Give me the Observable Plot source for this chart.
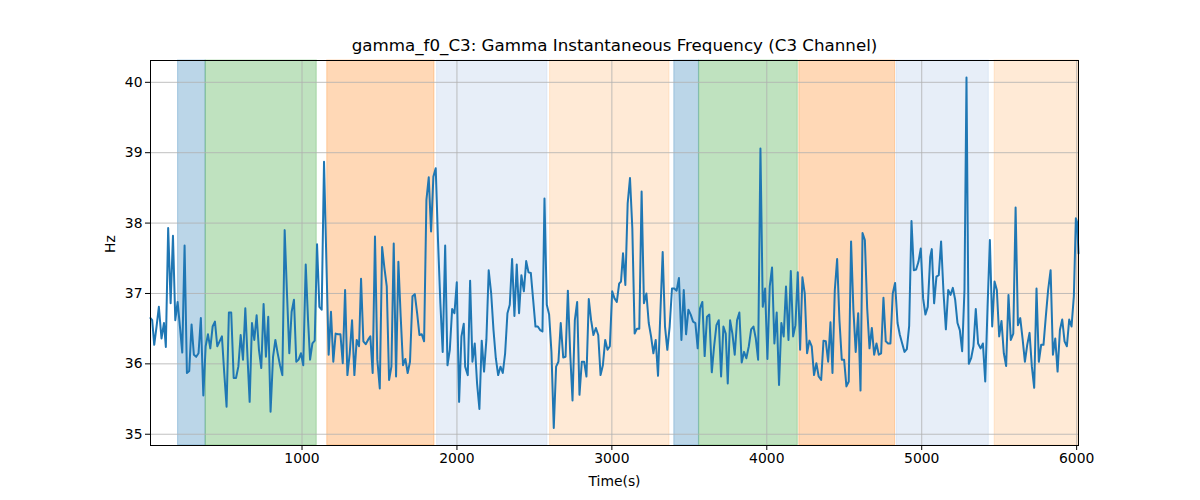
<!DOCTYPE html>
<html><head><meta charset="utf-8">
<script src="https://cdn.jsdelivr.net/npm/d3@7"></script>
<script src="https://cdn.jsdelivr.net/npm/@observablehq/plot@0.6"></script>
<style>
html,body{margin:0;padding:0;background:#fff;}
#chart svg{display:block;}
</style>
</head><body><div id="chart"></div>
<script>
const times = [22,33,46,61,76,93,109,121,136,152,167,182,197,212,227,242,257,272,287,302,317,332,347,363,378,393,408,423,438,453,468,483,498,513,528,543,559,574,589,604,619,634,649,662,677,692,707,722,737,752,767,782,797,813,828,843,858,873,888,903,918,933,948,963,978,993,1008,1024,1039,1052,
1067,1082,1097,1112,1127,1142,1157,1172,1187,1202,1217,1232,1248,1263,1278,1293,1308,1323,1338,1353,1368,1381,1396,1411,1426,1441,1456,1471,1486,1502,1517,1532,1547,1562,1577,1592,1607,1622,1637,1652,1667,1682,1697,1713,1728,1743,1758,1773,1788,1803,1818,1833,1848,1863,1878,1893,1908,1924,1939,1954,1969,1984,1999,2014,2029,2044,2053,
2070,2085,2100,2115,2130,2145,2160,2175,2190,2205,2221,2236,2251,2266,2281,2296,2311,2326,2341,2356,2371,2386,2401,2416,2432,2447,2462,2477,2492,2507,2522,2537,2552,2565,2580,2595,2610,2625,2640,2655,2670,2686,2701,2716,2731,2746,2761,2776,2791,2806,2821,2836,2851,2866,2881,2897,2912,2927,2942,2957,2972,2987,3002,3017,3032,3047,
3059,3072,3087,3102,3117,3132,3147,3162,3177,3192,3207,3223,3238,3253,3268,3283,3298,3313,3328,3343,3358,3373,3388,3403,3418,3433,3449,3464,3479,3494,3509,3524,3539,3554,3569,3584,3599,3614,3629,3645,3660,3675,3690,3705,3720,3735,3748,3763,3778,3793,3808,3823,3838,3853,3868,3884,3899,3914,3929,3944,3959,3974,3989,4004,4019,4034,4049,
4064,4079,4094,4109,4124,4140,4155,4170,4185,4200,4215,4230,4245,4260,4275,4290,4305,4320,4335,4351,4366,4381,4396,4411,4424,4439,4454,4469,4484,4499,4514,4529,4544,4559,4574,4590,4605,4618,4633,4648,4663,4678,4693,4708,4723,4738,4753,4768,4783,4798,4813,4828,4844,4859,4874,4889,4904,4919,4934,4949,4964,4979,4994,5009,5024,5039,5055,
5065,5080,5095,5110,5125,5141,5156,5171,5186,5201,5216,5231,5246,5261,5276,5289,5304,5319,5334,5349,5364,5380,5395,5410,5425,5440,5455,5470,5485,5500,5515,5530,5545,5560,5575,5591,5606,5621,5636,5651,5666,5681,5696,5711,5726,5741,5756,5771,5786,5801,5816,5832,5847,5862,5877,5892,5907,5922,5937,5952,5967,5982,5995,6003,6012];

const hz = [36.65,36.62,36.27,36.53,36.81,36.36,36.58,36.24,37.93,36.86,37.82,36.62,36.88,36.53,36.16,37.68,35.87,35.90,36.56,36.13,36.10,36.15,36.65,35.55,36.25,36.42,36.22,36.53,36.60,36.25,36.32,36.39,35.87,35.39,36.73,36.73,35.80,35.80,35.96,36.41,36.06,36.79,36.06,35.46,36.58,36.34,36.69,36.20,35.94,36.85,36.10,36.67,35.32,36.10,36.34,36.15,35.98,35.84,37.90,37.00,36.15,36.74,36.91,36.03,36.06,36.15,35.98,37.41,36.62,36.06,
36.29,36.33,37.70,36.81,36.77,38.87,37.48,36.13,36.74,36.03,36.43,36.42,36.42,36.01,37.05,35.84,36.15,36.62,35.84,36.34,36.25,37.21,36.32,36.28,36.34,36.39,35.87,37.81,36.06,35.65,37.66,37.36,37.10,35.77,35.96,37.71,35.82,37.45,36.67,35.98,36.07,35.87,36.03,36.96,36.99,36.72,36.41,36.42,36.32,38.33,38.65,37.88,38.66,38.78,37.74,36.86,36.17,37.68,35.98,36.20,36.78,36.72,37.16,35.46,36.39,36.57,35.96,
35.84,37.18,36.03,36.29,35.72,35.36,36.33,35.89,36.34,37.33,37.00,36.48,36.08,35.84,35.96,35.87,36.15,36.72,36.84,37.49,36.68,37.41,36.72,37.26,37.03,37.46,37.30,37.29,36.91,36.53,36.53,36.48,36.46,38.35,36.84,36.70,36.17,35.09,35.96,36.03,36.58,36.09,36.10,37.04,36.15,35.48,36.62,36.88,35.56,36.03,36.03,35.82,36.92,36.62,36.41,36.51,36.41,35.84,35.98,36.34,36.20,36.25,37.03,36.93,36.88,37.14,
37.17,37.57,37.12,38.28,38.64,37.93,36.43,36.50,36.50,38.45,36.86,37.00,36.58,36.39,36.15,36.34,35.83,36.72,37.59,36.53,36.20,36.53,37.07,37.07,37.04,37.22,36.34,37.05,36.42,36.77,36.70,36.60,36.58,36.22,36.79,36.88,36.11,36.67,36.70,35.88,36.25,36.55,36.62,35.82,36.53,36.43,35.72,36.62,36.43,36.13,36.62,36.73,36.02,36.17,36.08,36.25,36.49,36.53,36.36,36.06,39.06,36.81,37.07,36.07,37.10,37.37,36.29,
36.73,35.70,36.58,36.39,37.10,36.34,37.32,36.39,36.55,37.30,36.20,37.23,37.00,36.15,36.33,36.25,35.84,36.01,35.82,35.77,36.33,36.32,36.03,36.59,35.87,37.05,37.49,36.62,36.06,36.06,35.68,35.75,37.74,36.77,36.17,36.72,35.62,37.86,37.76,36.79,36.22,36.51,36.13,36.29,36.13,36.15,36.94,36.32,36.29,36.29,37.00,37.15,36.58,36.41,36.29,36.17,36.21,36.54,38.03,37.33,37.34,37.45,37.64,36.93,36.70,36.81,37.52,
37.63,36.86,37.24,37.26,37.74,37.00,36.49,37.05,36.98,37.08,36.91,36.58,36.48,36.18,37.05,40.07,36.00,36.08,36.25,36.78,36.29,36.22,36.29,35.75,36.81,37.76,36.53,37.17,37.05,36.39,36.61,36.15,35.97,36.98,36.34,36.43,38.22,36.55,36.65,36.36,36.03,36.27,36.44,35.96,35.66,37.07,36.03,36.27,36.27,36.67,37.05,37.33,36.13,36.36,35.89,36.48,36.63,36.32,36.25,36.63,36.53,36.96,38.07,38.01,37.57];

const spanStarts = [200, 378, 1163, 1872, 2601, 3403, 3564, 4210, 4838, 5471];
const spanEnds   = [378, 1095, 1855, 2584, 3372, 3562, 4200, 4828, 5433, 6012];
const spanKinds  = ["k1","k2","k3","k4","k5","k1","k2","k3","k4","k5"];

const xTicks = [1000, 2000, 3000, 4000, 5000, 6000];
const yTicks = [35, 36, 37, 38, 39, 40];
const titleText = "gamma_f0_C3: Gamma Instantaneous Frequency (C3 Channel)";
const xLabel = "Time(s)";
const yLabel = "Hz";

const kindColor = {k1:"#1f77b4", k2:"#2ca02c", k3:"#ff7f0e", k4:"#aec7e8", k5:"#ffbb78"};

const pts = times.map((t, i) => ({t, v: hz[i]}));
const spans = spanStarts.map((s, i) => ({s, e: spanEnds[i], k: spanKinds[i]}));

const font = "DejaVu Sans, Liberation Sans, sans-serif";

const chart = Plot.plot({
  width: 1200,
  height: 500,
  marginLeft: 150,
  marginRight: 122,
  marginTop: 60,
  marginBottom: 55,
  style: {fontFamily: font, fontSize: "13.9px", color: "#000", background: "#fff"},
  x: {domain: [times[0], times[times.length - 1]]},
  y: {domain: [34.84, 40.31]},
  marks: [
    Plot.rect(spans, {x1: "s", x2: "e", fill: d => kindColor[d.k], fillOpacity: 0.3, stroke: d => kindColor[d.k], strokeOpacity: 0.3, strokeWidth: 1}),
    Plot.gridX(xTicks, {stroke: "#b0b0b0", strokeOpacity: 1, strokeWidth: 0.8}),
    Plot.gridY(yTicks, {stroke: "#b0b0b0", strokeOpacity: 1, strokeWidth: 0.8}),
    Plot.line(pts, {x: "t", y: "v", stroke: "#1f77b4", strokeWidth: 2}),
    Plot.frame({stroke: "#000", strokeWidth: 1}),
    Plot.axisX(xTicks, {tickSize: 5, tickPadding: 3, label: null, fontSize: 13.9, tickFormat: d => String(d)}),
    Plot.axisY(yTicks, {tickSize: 5, tickPadding: 3, label: null, fontSize: 13.9, tickFormat: d => String(d)}),
    Plot.text([titleText], {frameAnchor: "top", dy: -15, fontSize: 16.7, lineAnchor: "middle", fill: "#000"}),
    Plot.text([xLabel], {frameAnchor: "bottom", dy: 36, fontSize: 13.9, lineAnchor: "middle", fill: "#000"}),
    Plot.text([yLabel], {frameAnchor: "left", dx: -40, rotate: -90, fontSize: 13.9, lineAnchor: "middle", fill: "#000"})
  ]
});
document.getElementById("chart").appendChild(chart);
</script>
</body></html>
